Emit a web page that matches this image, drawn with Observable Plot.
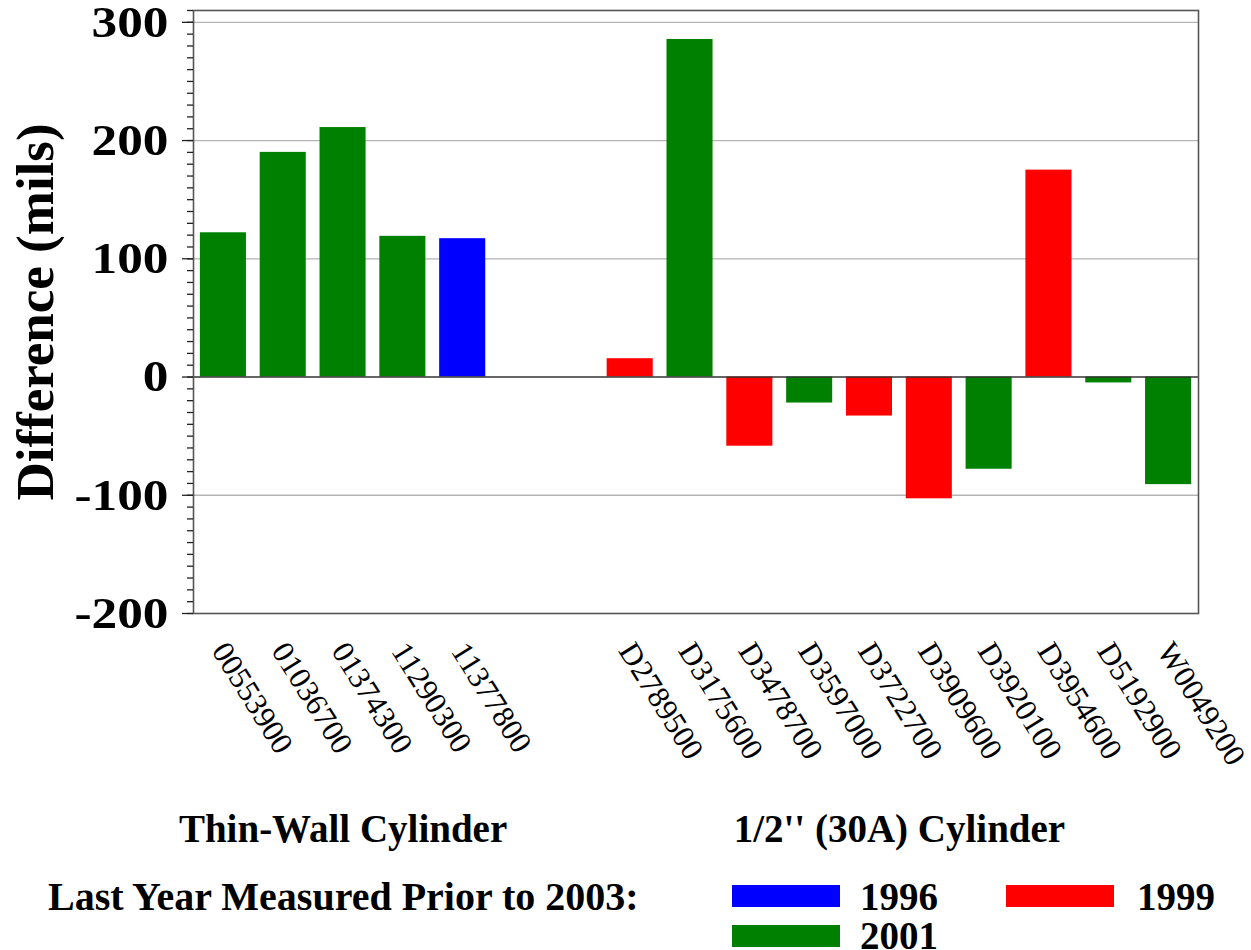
<!DOCTYPE html>
<html><head><meta charset="utf-8">
<script src="https://cdn.jsdelivr.net/npm/d3@7"></script>
<script src="https://cdn.jsdelivr.net/npm/@observablehq/plot@0.6"></script>
<style>
body{margin:0;background:#fff;font-family:"Liberation Serif","Times New Roman",serif;}
#wrap{position:relative;width:1251px;height:950px;overflow:hidden;}
#legend{position:absolute;left:0;top:860px;width:1251px;height:90px;font-weight:bold;font-size:39px;line-height:30px;color:#000;}
#legend div{position:absolute;white-space:nowrap;}
.sw{width:108px;height:22px;}
</style></head><body><div id="wrap"></div>
<script>
// ---- data ----
const thinNames = ["00553900","01036700","01374300","11290300","11377800"];
const thinValues = [122, 190, 211, 119, 117];
const thinYears = [2001, 2001, 2001, 2001, 1996];

const halfNames = ["D2789500","D3175600","D3478700","D3597000","D3722700","D3909600","D3920100","D3954600","D5192900","W0049200"];
const halfValues = [15.5, 285.5, -58.5, -22, -33, -103, -78, 175, -5, -91];
const halfYears = [1999, 2001, 1999, 2001, 1999, 1999, 2001, 1999, 2001, 2001];

const groupNames = ["Thin-Wall Cylinder", "1/2'' (30A) Cylinder"];
const legendTitle = "Last Year Measured Prior to 2003:";
const years = [1996, 1999, 2001];
const yearColors = ["#0000ff", "#ff0000", "#008000"];
const yTicks = [-200, -100, 0, 100, 200, 300];
const yLabel = "Difference (mils)";

// ---- layout (slot positions on a linear x scale) ----
const gap = 1.8;           // extra slots between the two groups
const halfBar = 0.385;     // half bar width in slot units
const halfStart = thinNames.length + gap;
const rows = [
  ...thinNames.map((n, i) => ({name: n, value: thinValues[i], year: thinYears[i], pos: i})),
  ...halfNames.map((n, j) => ({name: n, value: halfValues[j], year: halfYears[j], pos: halfStart + j}))
];
const groups = [
  {name: groupNames[0], center: (thinNames.length - 1) / 2},
  {name: groupNames[1], center: halfStart + (halfNames.length - 1) / 2}
];
const nameByKey = new Map(rows.map(r => [Math.round(r.pos * 10), r.name]));
const xMax = halfStart + halfNames.length - 0.5;

const font = "'Liberation Serif','Times New Roman',serif";
const chart = Plot.plot({
  width: 1251, height: 860,
  marginLeft: 193, marginRight: 53, marginTop: 10, marginBottom: 247,
  style: {fontFamily: font, background: "#fff", color: "#000"},
  x: {type: "linear", domain: [-0.5, xMax], axis: null},
  y: {domain: [-200, 310], axis: null},
  color: {domain: years, range: yearColors},
  marks: [
    Plot.gridY({ticks: [-100, 100, 200, 300], stroke: "#b4b4b4", strokeOpacity: 1, strokeWidth: 1.3}),
    Plot.rect(rows, {x1: d => d.pos - halfBar, x2: d => d.pos + halfBar, y1: 0, y2: "value", fill: d => d.year}),
    Plot.ruleY([0], {stroke: "#333", strokeWidth: 1.5}),
    Plot.frame({stroke: "#555", strokeWidth: 1.6}),
    Plot.axisY({ticks: d3.range(-200, 311, 10), tickSize: 6, tickFormat: () => "", label: null, stroke: "#222", strokeWidth: 1.3}),
    Plot.axisY({ticks: yTicks, tickSize: 11, tickPadding: 14, stroke: "#222", strokeWidth: 1.3,
      fontSize: 45, fontWeight: "bold", fontFamily: font, tickFormat: d => String(d), label: null}),
    Plot.axisX({ticks: rows.map(r => r.pos), tickSize: 0, tickPadding: 32, tickRotate: 58, dx: -4,
      tickFormat: d => nameByKey.get(Math.round(d * 10)), fontSize: 31, fontFamily: font, label: null}),
    Plot.text([yLabel], {frameAnchor: "left", textAnchor: "middle", lineAnchor: "middle", rotate: -90, dx: -157,
      fontSize: 53, fontWeight: "bold", fontFamily: font}),
    Plot.text(groups, {x: "center", text: "name", frameAnchor: "bottom", lineAnchor: "middle", dy: 216,
      fontSize: 39, fontWeight: "bold", fontFamily: font})
  ]
});
const wrap = document.getElementById("wrap");
wrap.appendChild(chart);

// widen the bold y tick labels horizontally (the reference face is wider)
const tickStrings = new Set(yTicks.map(String));
chart.querySelectorAll("text").forEach(t => {
  if (!tickStrings.has(t.textContent.trim())) return;
  const x = +t.getAttribute("x") || 0, y = +t.getAttribute("y") || 0;
  const tr = t.getAttribute("transform") || "";
  t.setAttribute("transform", `${tr} translate(${x},${y}) scale(1.14,1) translate(${-x},${-y})`);
});

// ---- legend below the chart ----
const legend = document.createElement("div");
legend.id = "legend";
const items = [
  {year: 1996, sx: 732, sy: 25, tx: 860, ty: 22, lh: 30},
  {year: 1999, sx: 1006, sy: 25, tx: 1137, ty: 22, lh: 30},
  {year: 2001, sx: 732, sy: 65, tx: 860, ty: 62, lh: 28}
];
let html = `<div style="left:48px;top:22px;font-size:40px">${legendTitle}</div>`;
for (const it of items) {
  const c = yearColors[years.indexOf(it.year)];
  html += `<div class="sw" style="left:${it.sx}px;top:${it.sy}px;background:${c}"></div>`;
  html += `<div style="left:${it.tx}px;top:${it.ty}px;line-height:${it.lh}px">${it.year}</div>`;
}
legend.innerHTML = html;
wrap.appendChild(legend);
</script>
</body></html>
